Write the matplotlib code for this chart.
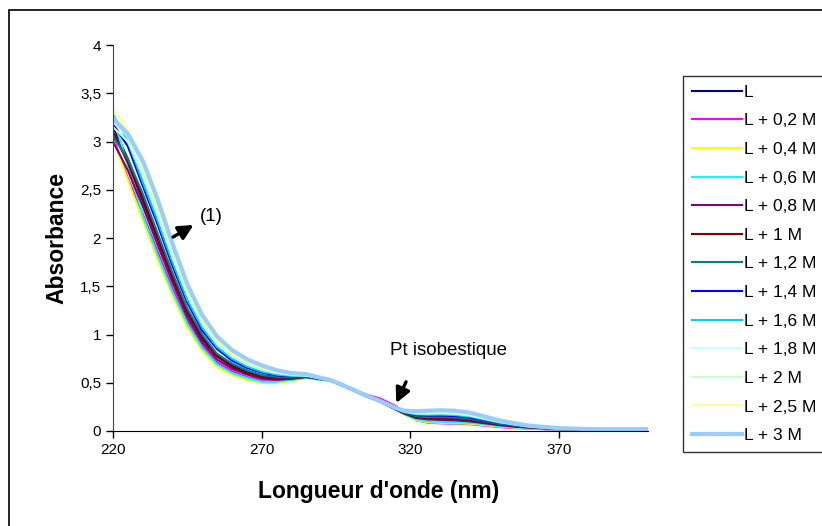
import matplotlib
matplotlib.use("Agg")
import matplotlib.pyplot as plt
from matplotlib.patches import Rectangle

plt.rcParams['font.family'] = ['Liberation Sans', 'DejaVu Sans']

wavelength = [220, 225, 230, 235, 240, 245, 250, 255, 260, 265, 270, 275, 280, 285,
              290, 293, 297, 300, 305, 310, 315, 318, 322, 326, 330, 335, 340, 345,
              350, 355, 360, 370, 380, 390, 400]

abs_L = [3.15, 2.82, 2.42, 2.01, 1.61, 1.24, 0.97, 0.78, 0.68, 0.61, 0.57, 0.55, 0.55, 0.56,
         0.54, 0.53, 0.48, 0.44, 0.37, 0.31, 0.23, 0.185, 0.145, 0.135, 0.135, 0.13, 0.12, 0.095,
         0.07, 0.052, 0.04, 0.022, 0.018, 0.015, 0.015]
abs_02 = [3.05, 2.62, 2.25, 1.86, 1.48, 1.14, 0.89, 0.71, 0.62, 0.56, 0.53, 0.52, 0.53, 0.555,
          0.535, 0.525, 0.475, 0.435, 0.38, 0.335, 0.26, 0.19, 0.11, 0.085, 0.08, 0.075, 0.07, 0.055,
          0.04, 0.03, 0.025, 0.01, 0.01, 0.005, 0.005]
abs_04 = [3.02, 2.60, 2.18, 1.77, 1.40, 1.07, 0.83, 0.66, 0.58, 0.53, 0.50, 0.50, 0.52, 0.55,
          0.53, 0.52, 0.47, 0.43, 0.36, 0.30, 0.22, 0.17, 0.11, 0.09, 0.085, 0.08, 0.075, 0.06,
          0.045, 0.035, 0.03, 0.015, 0.01, 0.01, 0.01]
abs_06 = [3.25, 2.75, 2.23, 1.82, 1.44, 1.11, 0.86, 0.69, 0.60, 0.55, 0.51, 0.51, 0.53, 0.55,
          0.53, 0.52, 0.47, 0.43, 0.36, 0.30, 0.22, 0.175, 0.12, 0.10, 0.095, 0.09, 0.085, 0.07,
          0.05, 0.04, 0.03, 0.015, 0.01, 0.01, 0.01]
abs_08 = [3.00, 2.70, 2.33, 1.93, 1.54, 1.18, 0.92, 0.74, 0.645, 0.585, 0.545, 0.53, 0.54, 0.56,
          0.535, 0.525, 0.475, 0.435, 0.365, 0.305, 0.225, 0.18, 0.135, 0.12, 0.115, 0.11, 0.10, 0.08,
          0.06, 0.045, 0.035, 0.02, 0.015, 0.01, 0.01]
abs_1 = [3.10, 2.78, 2.38, 1.98, 1.58, 1.22, 0.95, 0.77, 0.665, 0.60, 0.56, 0.54, 0.545, 0.56,
         0.54, 0.525, 0.475, 0.435, 0.365, 0.305, 0.23, 0.185, 0.14, 0.13, 0.128, 0.123, 0.113, 0.09,
         0.066, 0.05, 0.038, 0.02, 0.015, 0.012, 0.012]
abs_12 = [3.05, 2.82, 2.46, 2.05, 1.64, 1.27, 1.00, 0.80, 0.70, 0.63, 0.58, 0.56, 0.555, 0.565,
          0.54, 0.525, 0.475, 0.435, 0.365, 0.305, 0.23, 0.19, 0.153, 0.144, 0.144, 0.139, 0.127, 0.10,
          0.074, 0.055, 0.041, 0.022, 0.015, 0.015, 0.015]
abs_14 = [3.18, 2.95, 2.54, 2.14, 1.71, 1.33, 1.04, 0.85, 0.73, 0.655, 0.605, 0.575, 0.565, 0.57,
          0.545, 0.53, 0.475, 0.435, 0.365, 0.305, 0.23, 0.195, 0.165, 0.16, 0.16, 0.155, 0.14, 0.11,
          0.083, 0.06, 0.045, 0.025, 0.017, 0.016, 0.016]
abs_16 = [3.28, 3.00, 2.58, 2.18, 1.75, 1.36, 1.07, 0.87, 0.75, 0.67, 0.615, 0.585, 0.57, 0.57,
          0.545, 0.53, 0.478, 0.438, 0.368, 0.308, 0.233, 0.196, 0.172, 0.168, 0.17, 0.165, 0.15, 0.118,
          0.087, 0.064, 0.046, 0.025, 0.017, 0.016, 0.016]
abs_18 = [3.20, 3.05, 2.68, 2.27, 1.83, 1.43, 1.13, 0.92, 0.79, 0.70, 0.645, 0.605, 0.585, 0.575,
          0.547, 0.53, 0.478, 0.438, 0.368, 0.308, 0.236, 0.202, 0.187, 0.19, 0.19, 0.185, 0.167, 0.13,
          0.097, 0.071, 0.05, 0.027, 0.018, 0.018, 0.018]
abs_2 = [3.15, 3.00, 2.65, 2.24, 1.80, 1.41, 1.11, 0.90, 0.775, 0.69, 0.635, 0.60, 0.58, 0.575,
         0.545, 0.53, 0.478, 0.438, 0.368, 0.308, 0.235, 0.20, 0.18, 0.18, 0.183, 0.178, 0.16, 0.128,
         0.094, 0.069, 0.049, 0.026, 0.018, 0.017, 0.017]
abs_25 = [3.33, 3.13, 2.74, 2.33, 1.88, 1.47, 1.16, 0.94, 0.81, 0.72, 0.66, 0.615, 0.59, 0.578,
          0.548, 0.53, 0.479, 0.439, 0.369, 0.309, 0.238, 0.205, 0.195, 0.197, 0.20, 0.195, 0.176, 0.14,
          0.10, 0.075, 0.052, 0.028, 0.019, 0.019, 0.019]
abs_3 = [3.24, 3.08, 2.80, 2.40, 1.94, 1.52, 1.20, 0.98, 0.84, 0.745, 0.68, 0.63, 0.60, 0.59,
         0.55, 0.53, 0.48, 0.44, 0.37, 0.31, 0.24, 0.21, 0.205, 0.21, 0.215, 0.21, 0.19, 0.15,
         0.11, 0.08, 0.055, 0.03, 0.02, 0.02, 0.02]

labels = ["L", "L + 0,2 M", "L + 0,4 M", "L + 0,6 M", "L + 0,8 M", "L + 1 M", "L + 1,2 M",
          "L + 1,4 M", "L + 1,6 M", "L + 1,8 M", "L + 2 M", "L + 2,5 M", "L + 3 M"]
series = [abs_L, abs_02, abs_04, abs_06, abs_08, abs_1, abs_12,
          abs_14, abs_16, abs_18, abs_2, abs_25, abs_3]
colors = ["#000080", "#FF00FF", "#FFFF00", "#00FFFF", "#800080", "#800000", "#008080",
          "#0000FF", "#00CCFF", "#CCFFFF", "#CCFFCC", "#FFFF99", "#99CCFF"]
widths = [1.5] * 12 + [3.0]

fig = plt.figure(figsize=(8.22, 5.26), dpi=100)
ax = fig.add_axes([113 / 822, 95 / 526, 535 / 822, 386 / 526])

for y, lab, c, lw in zip(series, labels, colors, widths):
    ax.plot(wavelength, y, color=c, lw=lw, label=lab)

ax.set_xlim(220, 400)
ax.set_ylim(0, 4)
ax.set_xticks([220, 270, 320, 370])
ax.set_yticks([0, 0.5, 1, 1.5, 2, 2.5, 3, 3.5, 4])
ax.set_yticklabels(["0", "0,5", "1", "1,5", "2", "2,5", "3", "3,5", "4"])
ax.tick_params(labelsize=11, length=5, width=1, direction="out", colors="black")
ax.spines["top"].set_visible(False)
ax.spines["right"].set_visible(False)
ax.spines["left"].set_color("#444444")
ax.spines["bottom"].set_color("black")

ax.set_xlabel("Longueur d'onde (nm)", fontsize=16.5, fontweight="bold", va="center", ha="center")
ax.set_ylabel("Absorbance", fontsize=16.5, fontweight="bold", va="center", ha="center")
ax.xaxis.set_label_coords(0.497, -0.158)
ax.yaxis.set_label_coords(-0.105, 0.5)

arrow = dict(arrowstyle="-|>", mutation_scale=22, color="black", lw=2.4, shrinkA=0, shrinkB=0)
ax.annotate("", xy=(247.1, 2.135), xytext=(240.2, 2.01), arrowprops=arrow)
ax.text(249.2, 2.22, "(1)", fontsize=13.5, va="center", ha="left")
ax.annotate("", xy=(315.3, 0.29), xytext=(318.6, 0.51), arrowprops=arrow)
ax.text(332.8, 0.83, "Pt isobestique", fontsize=13.5, va="center", ha="center")

fig.legend(loc="upper left", bbox_to_anchor=(683 / 822, 1 - 76 / 526), fontsize=12.5,
           frameon=True, fancybox=False, edgecolor="black", borderaxespad=0,
           handlelength=2.9, handletextpad=0.12, labelspacing=0.775, borderpad=0.5)

fig.add_artist(Rectangle((9 / 822, -0.1), 1.2, 1 - 10 / 526 + 0.1, transform=fig.transFigure,
                         fill=False, edgecolor="black", lw=1.2))

fig.savefig("out.png", dpi=100)
